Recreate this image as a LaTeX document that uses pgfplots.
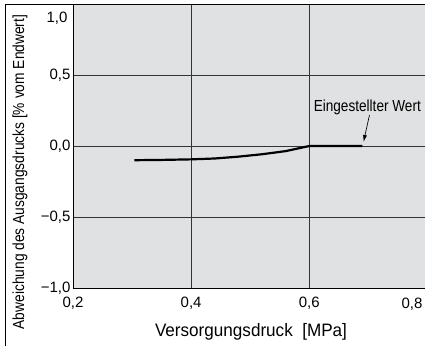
\documentclass[border=0pt]{standalone}
\usepackage{pgfplots}
\pgfplotsset{compat=1.18}
\usetikzlibrary{arrows.meta}
\usepackage{fontspec}
\setmainfont{Liberation Sans}
\definecolor{bg}{HTML}{E0E1E2}
\begin{document}
\begin{tikzpicture}[x=1pt,y=1pt]
\useasboundingbox (-73,-58) rectangle (352,288);
\begin{axis}[
  at={(0,0)}, anchor=south west,
  scale only axis, width=352pt, height=284pt,
  xmin=0.2, xmax=0.79580, ymin=-1, ymax=1,
  axis background/.style={fill=bg},
  xtick={0.2,0.4,0.6}, xticklabels={{0,2},{0,4},{0,6}},
  ytick={-1,-0.5,0,0.5,1}, yticklabels={{−1,0},{−0,5},{0,0},{0,5},{}},
  major tick length=0pt,
  grid=major, grid style={black!80, line width=0.7pt},
  axis line style={black, line width=0.9pt},
  axis x line*=bottom, axis y line*=left,
  tick label style={font=\fontsize{15}{17}\selectfont},
  xticklabel style={yshift=-5pt},
  yticklabel style={xshift=1pt},
  clip=false,
]
\addplot[black, line width=2.2pt, line join=round] coordinates {
 (0.304,-0.100) (0.35,-0.098) (0.40,-0.094) (0.44,-0.088) (0.48,-0.075) (0.52,-0.058) (0.56,-0.036) (0.60,0.0) (0.69,0.0)
};
\node[font=\fontsize{16}{18}\selectfont, anchor=base] at (axis cs:0.6,0) [xshift=58pt, yshift=35pt] {\scalebox{0.85}[1]{Eingestellter Wert}};
\draw[-{Latex[length=7pt,width=4pt]}, line width=0.7pt] ([shift={(7pt,31pt)}]axis cs:0.69,0) -- ([shift={(1pt,4pt)}]axis cs:0.69,0);
\end{axis}
\draw[line width=0.8pt] (-68,-58) -- (-68,284) -- (352,284);
\node[font=\fontsize{15}{17}\selectfont, anchor=east] at (-2,270) {1,0};
\node[font=\fontsize{16}{18}\selectfont, rotate=90] at (-53,116) {\scalebox{0.86}[1]{Abweichung des Ausgangsdrucks [\% vom Endwert]}};
\node[font=\fontsize{18}{20}\selectfont] at (178,-44) {\scalebox{0.95}[1]{Versorgungsdruck\ \ [MPa]}};
\node[font=\fontsize{15}{17}\selectfont] at (339,-16) {0,8};
\end{tikzpicture}
\end{document}
